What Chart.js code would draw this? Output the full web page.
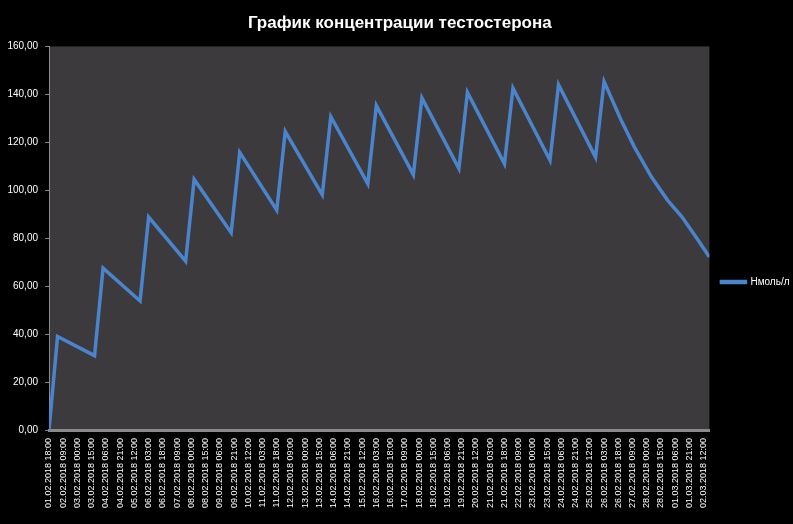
<!DOCTYPE html>
<html>
<head>
<meta charset="utf-8">
<script src="https://cdn.jsdelivr.net/npm/chart.js@4"></script>
<style>
  body { margin: 0; background: #000; }
</style>
</head>
<body>
<canvas id="tChart" width="793" height="524"></canvas>
<script>
// hours since 01.02.2018 18:00
const hours = [0, 9, 48, 57, 96, 105, 144, 153, 192, 201, 240, 249, 288, 297, 336, 345,
    384, 393, 432, 441, 480, 489, 528, 537, 576, 585, 603, 617, 635, 652, 667, 684, 696];
const values = [0, 39, 31, 67.5, 53.8, 88.8, 70.4, 104.5, 82.3, 115.8, 91.7, 124.5, 98.1, 130.7,
    102.7, 135.3, 106.5, 138.5, 109, 140.8, 111, 142.6, 112.5, 144, 113.8, 145.3,
    129.2, 118, 105.5, 95.8, 88.9, 79.2, 72.2];
const xLabels = [
    '01.02.2018 18:00', '02.02.2018 09:00', '03.02.2018 00:00', '03.02.2018 15:00',
    '04.02.2018 06:00', '04.02.2018 21:00', '05.02.2018 12:00', '06.02.2018 03:00',
    '06.02.2018 18:00', '07.02.2018 09:00', '08.02.2018 00:00', '08.02.2018 15:00',
    '09.02.2018 06:00', '09.02.2018 21:00', '10.02.2018 12:00', '11.02.2018 03:00',
    '11.02.2018 18:00', '12.02.2018 09:00', '13.02.2018 00:00', '13.02.2018 15:00',
    '14.02.2018 06:00', '14.02.2018 21:00', '15.02.2018 12:00', '16.02.2018 03:00',
    '16.02.2018 18:00', '17.02.2018 09:00', '18.02.2018 00:00', '18.02.2018 15:00',
    '19.02.2018 06:00', '19.02.2018 21:00', '20.02.2018 12:00', '21.02.2018 03:00',
    '21.02.2018 18:00', '22.02.2018 09:00', '23.02.2018 00:00', '23.02.2018 15:00',
    '24.02.2018 06:00', '24.02.2018 21:00', '25.02.2018 12:00', '26.02.2018 03:00',
    '26.02.2018 18:00', '27.02.2018 09:00', '28.02.2018 00:00', '28.02.2018 15:00',
    '01.03.2018 06:00', '01.03.2018 21:00', '02.03.2018 12:00'
];
const labelStep = 15;
const seriesName = 'Нмоль/л';
const chartTitle = 'График концентрации тестостерона';

const plotBg = {
    id: 'plotBg',
    beforeDraw(chart) {
        const a = chart.chartArea;
        const ctx = chart.ctx;
        ctx.save();
        ctx.fillStyle = '#3d3a3d';
        ctx.fillRect(a.left, a.top, a.right - a.left, a.bottom - a.top);
        ctx.restore();
    }
};

const font = 'Liberation Sans';

const config = {
    type: 'line',
    data: {
        datasets: [{
            label: seriesName,
            data: hours.map((h, i) => ({ x: h, y: values[i] })),
            borderColor: '#4a84cc',
            backgroundColor: '#4a84cc',
            borderWidth: 3.5,
            pointRadius: 0,
            tension: 0
        }]
    },
    options: {
        responsive: false,
        animation: false,
        layout: { padding: { left: 0, top: 0, right: -6.5, bottom: 0 } },
        plugins: {
            title: {
                display: true,
                text: chartTitle,
                color: '#ffffff',
                font: { family: font, size: 17, weight: 'bold' },
                padding: { top: 13, bottom: 13 }
            },
            legend: {
                position: 'right',
                // empty legend title only pushes the item down a bit
                title: { display: true, text: '', font: { size: 10 }, padding: { top: 0, bottom: 28 } },
                labels: {
                    color: '#ffffff',
                    font: { family: font, size: 10 },
                    boxWidth: 24,
                    boxHeight: 1,
                    padding: 12
                }
            },
            tooltip: { enabled: false }
        },
        scales: {
            x: {
                type: 'linear',
                min: 0,
                max: 696,
                afterBuildTicks: (scale) => {
                    scale.ticks = xLabels.map((_, i) => ({ value: i * labelStep }));
                },
                afterFit: (scale) => { scale.height = 94; },
                grid: { display: false },
                border: { color: '#8a8a8a', width: 3 },
                ticks: {
                    autoSkip: false,
                    minRotation: 90,
                    maxRotation: 90,
                    padding: 0,
                    color: '#ffffff',
                    font: { family: font, size: 9 },
                    callback: (v) => xLabels[Math.round(v / labelStep)]
                }
            },
            y: {
                min: 0,
                max: 160,
                afterFit: (scale) => { scale.width = 49; },
                grid: { drawOnChartArea: false, color: '#8a8a8a', tickLength: 4 },
                border: { color: '#8a8a8a', width: 1 },
                ticks: {
                    stepSize: 20,
                    padding: 7,
                    color: '#ffffff',
                    font: { family: font, size: 10 },
                    callback: (v) => v.toFixed(2).replace('.', ',')
                }
            }
        }
    },
    plugins: [plotBg]
};

const myChart = new Chart(document.getElementById('tChart'), config);
</script>
</body>
</html>
